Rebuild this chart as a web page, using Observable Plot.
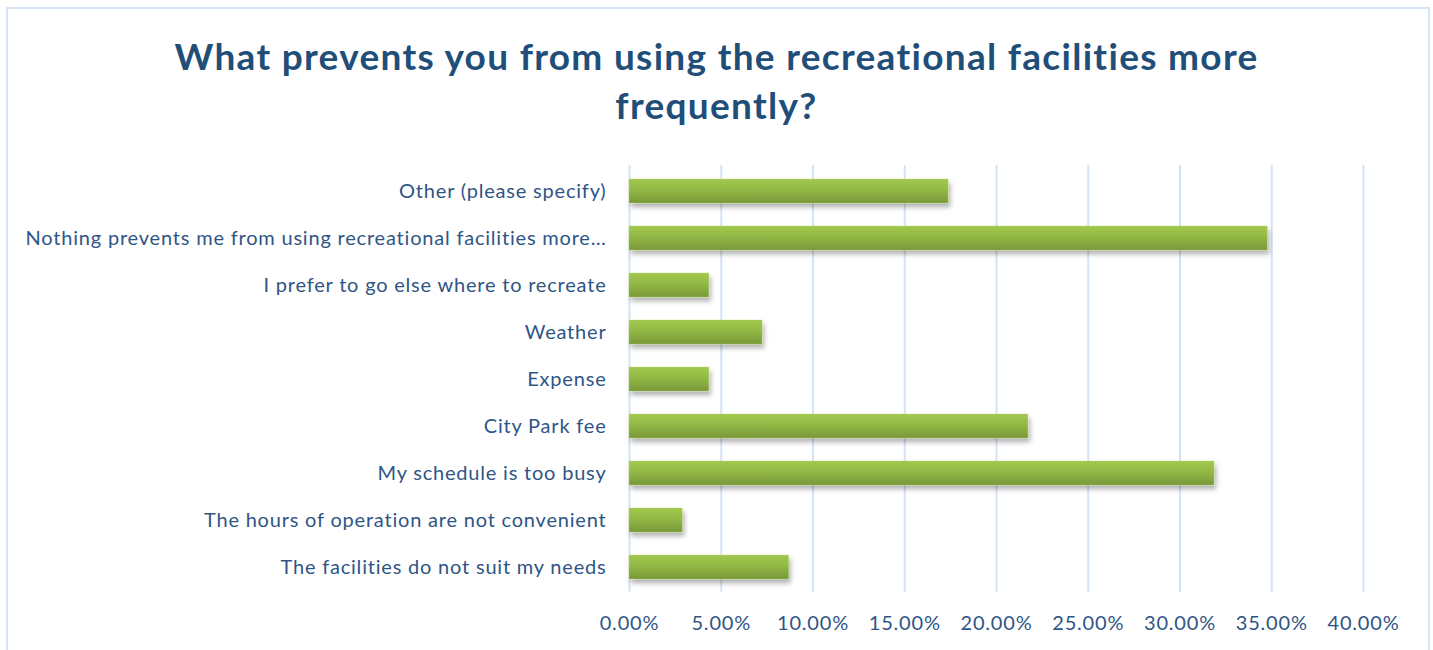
<!DOCTYPE html>
<html>
<head>
<meta charset="utf-8">
<script src="https://cdn.jsdelivr.net/npm/d3@7"></script>
<script src="https://cdn.jsdelivr.net/npm/@observablehq/plot@0.6"></script>
<style>
  html, body { margin: 0; padding: 0; background: #fff; width: 1433px; height: 650px; overflow: hidden; }
  #frame { position: absolute; left: 6px; top: 7px; width: 1420px; height: 700px; border: 2px solid #D6E4F3; box-sizing: content-box; }
  #title { position: absolute; left: 0; top: 31px; width: 1433px; text-align: center; font-family: Lato, "Open Sans", sans-serif; font-weight: 700; font-size: 37px; letter-spacing: 1.3px; line-height: 49px; color: #1F4E79; }
  #chart { position: absolute; left: 0; top: 140px; }
  #chart svg text { letter-spacing: 0.8px; }
</style>
</head>
<body>
<div id="frame"></div>
<div id="title">What prevents you from using the recreational facilities more<br>frequently?</div>
<div id="chart"></div>
<script>
const categories = [
  "Other (please specify)",
  "Nothing prevents me from using recreational facilities more…",
  "I prefer to go else where to recreate",
  "Weather",
  "Expense",
  "City Park fee",
  "My schedule is too busy",
  "The hours of operation are not convenient",
  "The facilities do not suit my needs"
];
const shares = [0.1739, 0.3478, 0.0435, 0.0725, 0.0435, 0.2174, 0.3188, 0.0290, 0.0870];
const xTicks = [0, 0.05, 0.10, 0.15, 0.20, 0.25, 0.30, 0.35, 0.40];

const data = categories.map((c, i) => ({category: c, share: shares[i]}));

const plot = Plot.plot({
  width: 1433,
  height: 510,
  marginLeft: 629,
  marginRight: 70,
  marginTop: 25,
  marginBottom: 58,
  style: {fontFamily: "Lato, 'Open Sans', sans-serif", fontSize: "20px", color: "#2F5586", background: "transparent"},
  x: {domain: [0, 0.40], ticks: xTicks, tickFormat: d => (d * 100).toFixed(2) + "%", tickSize: 0, tickPadding: 23, label: null},
  y: {domain: categories, paddingInner: 0.49, paddingOuter: 0.245, tickSize: 0, tickPadding: 23, label: null},
  marks: [
    Plot.ruleX(xTicks, {stroke: "#D5E3F3", strokeWidth: 2}),
    Plot.barX(data, {x: "share", y: "category", fill: "url(#barGrad)", stroke: "#B5D56A", strokeWidth: 0.6, strokeOpacity: 0.6})
  ]
});

const svg = d3.select(plot);
const defs = svg.insert("defs", ":first-child");
const g = defs.append("linearGradient").attr("id", "barGrad").attr("x1", 0).attr("y1", 0).attr("x2", 0).attr("y2", 1);
g.append("stop").attr("offset", "0%").attr("stop-color", "#A2C84E");
g.append("stop").attr("offset", "45%").attr("stop-color", "#93B845");
g.append("stop").attr("offset", "100%").attr("stop-color", "#789839");
const f = defs.append("filter").attr("id", "shadow").attr("x", "-5%").attr("y", "-30%").attr("width", "115%").attr("height", "190%");
f.append("feDropShadow").attr("dx", 2).attr("dy", 4).attr("stdDeviation", 2.5).attr("flood-color", "#000").attr("flood-opacity", 0.3);
svg.selectAll("g[aria-label='bar'] rect").attr("filter", "url(#shadow)");
svg.selectAll("g[aria-label='x-axis tick label'] text, g[aria-label='y-axis tick label'] text").attr("fill", "#2F5586");

document.getElementById("chart").appendChild(plot);
</script>
</body>
</html>
